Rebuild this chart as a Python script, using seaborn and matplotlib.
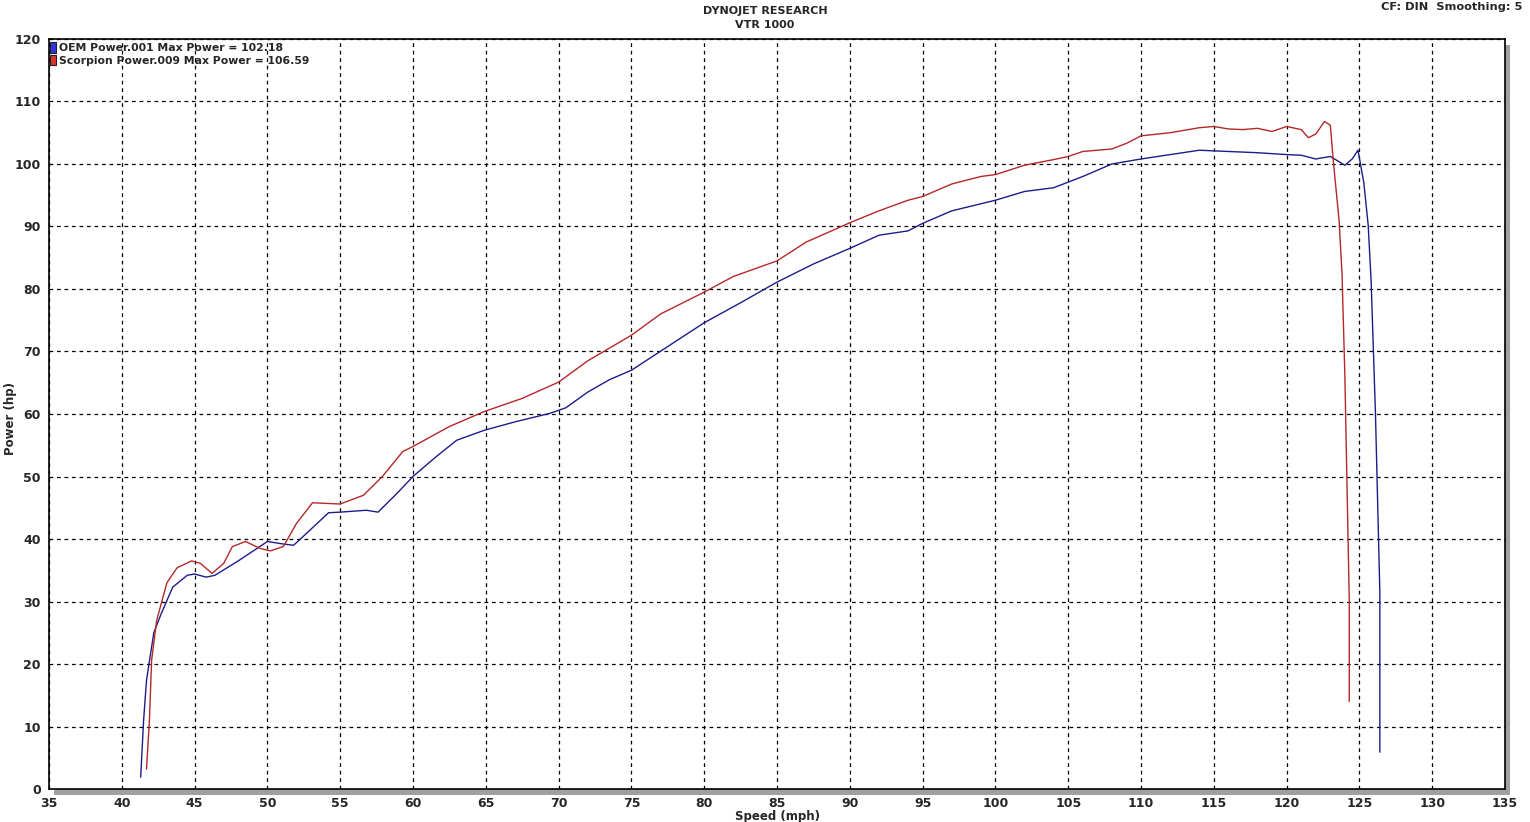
import numpy as np
import pandas as pd
import seaborn as sns
import matplotlib.pyplot as plt
from matplotlib.patches import Patch, Rectangle
from matplotlib.ticker import MultipleLocator

# values
oem_speed = [41.3, 41.5, 41.7, 42.2, 42.7, 43.5, 44.5, 45.0, 45.8, 46.4, 48.0, 50.0,
             51.1, 51.8, 52.5, 54.2, 55.0, 56.8, 57.6, 58.9, 60.0, 61.5, 63.0, 64.9,
             67.1, 69.4, 70.5, 72.0, 73.5, 75.0, 77.5, 80.0, 82.5, 85.0, 87.5, 90.0,
             92.0, 94.0, 95.0, 97.0, 100.0, 102.0, 104.0, 106.0, 108.0, 110.0, 112.0,
             114.0, 116.0, 118.0, 120.0, 121.0, 122.0, 123.0, 124.0, 124.5, 124.9,
             125.3, 125.6, 125.8, 126.1, 126.4, 126.4]
oem_power = [1.9, 11.0, 17.4, 25.0, 28.0, 32.3, 34.2, 34.4, 33.9, 34.2, 36.5, 39.6,
             39.2, 39.0, 40.5, 44.2, 44.3, 44.6, 44.3, 47.3, 50.0, 53.0, 55.8, 57.4,
             58.8, 60.1, 61.0, 63.5, 65.5, 67.0, 70.8, 74.6, 77.8, 81.1, 84.0, 86.5,
             88.6, 89.3, 90.5, 92.5, 94.2, 95.6, 96.2, 98.0, 100.0, 100.8, 101.5,
             102.2, 102.0, 101.8, 101.5, 101.4, 100.8, 101.2, 99.8, 100.8, 102.2,
             97.0, 90.2, 81.4, 60.0, 31.6, 5.9]

scorpion_speed = [41.7, 41.9, 42.05, 42.4, 43.1, 43.8, 44.8, 45.4, 46.2, 47.0, 47.6,
                  48.5, 49.5, 50.2, 51.1, 52.0, 53.1, 55.0, 56.6, 57.9, 59.3, 60.0,
                  62.5, 64.9, 67.5, 70.0, 72.0, 75.0, 77.0, 80.0, 82.0, 85.0, 87.0,
                  90.0, 92.0, 94.0, 95.0, 97.0, 99.0, 100.0, 102.0, 104.0, 105.0,
                  106.0, 108.0, 109.0, 110.0, 112.0, 114.0, 115.0, 116.0, 117.0,
                  118.0, 119.0, 120.0, 121.0, 121.5, 122.0, 122.6, 123.0, 123.2,
                  123.6, 123.8, 124.0, 124.3, 124.3]
scorpion_power = [3.2, 11.0, 20.6, 27.0, 33.0, 35.4, 36.5, 36.1, 34.5, 36.1, 38.8,
                  39.6, 38.5, 38.1, 38.8, 42.5, 45.8, 45.6, 47.0, 50.0, 54.0, 54.8,
                  58.0, 60.4, 62.5, 65.1, 68.5, 72.6, 76.0, 79.5, 82.0, 84.5, 87.5,
                  90.6, 92.5, 94.2, 94.8, 96.8, 98.0, 98.3, 99.8, 100.7, 101.2,
                  102.0, 102.4, 103.3, 104.5, 105.0, 105.8, 106.0, 105.6, 105.5,
                  105.7, 105.2, 106.0, 105.5, 104.2, 104.8, 106.8, 106.2, 100.6,
                  91.0, 82.6, 66.0, 30.2, 14.0]

runs = ["OEM Power.001 Max Power = 102.18", "Scorpion Power.009 Max Power = 106.59"]
colors = ["#1c1c8c", "#b42828"]

df = pd.concat([
    pd.DataFrame({"Speed": oem_speed, "Power": oem_power, "Run": runs[0]}),
    pd.DataFrame({"Speed": scorpion_speed, "Power": scorpion_power, "Run": runs[1]}),
])

sns.set_style("white")
plt.rcParams["font.family"] = ["DejaVu Sans"]

fig = plt.figure(figsize=(15.3, 8.22), dpi=100)
ax = fig.add_axes([0.032, 0.0401, 0.9517, 0.9125])

# drop shadow behind the plot frame
fig.patches.append(Rectangle((0.035, 0.033), 0.9517, 0.9125, transform=fig.transFigure,
                             facecolor="#a0a0a0", edgecolor="none", zorder=-1))

sns.lineplot(data=df, x="Speed", y="Power", hue="Run", palette=colors, sort=False,
             estimator=None, linewidth=1.0, legend=False, ax=ax)

ax.set_xlim(35, 135)
ax.set_ylim(0, 120)
ax.xaxis.set_major_locator(MultipleLocator(5))
ax.xaxis.set_minor_locator(MultipleLocator(1))
ax.yaxis.set_major_locator(MultipleLocator(10))
ax.yaxis.set_minor_locator(MultipleLocator(2))
ax.tick_params(which="both", direction="inout", color="black", width=1)
ax.tick_params(which="major", length=8, labelsize=9, pad=2)
ax.tick_params(which="minor", length=6)
for lab in ax.get_xticklabels() + ax.get_yticklabels():
    lab.set_fontweight("bold")
ax.grid(True, which="major", color="black", linestyle=(0, (3, 3)), linewidth=0.9)
for sp in ax.spines.values():
    sp.set_color("black")
    sp.set_linewidth(1.2)
ax.set_facecolor("white")

ax.set_xlabel("Speed (mph)", fontweight="bold", fontsize=8.5, labelpad=0)
ax.set_ylabel("")
fig.text(0.0068, 0.491, "Power (hp)", rotation=90, ha="center", va="center",
         fontweight="bold", fontsize=8.5)

handles = [Patch(facecolor=c, edgecolor="#202020", linewidth=0.8) for c in ["#3333dd", "#dd3333"]]
ax.legend(handles, runs, loc="upper left", bbox_to_anchor=(-0.004, 1.004), frameon=False,
          handlelength=0.6, handleheight=1.05, handletextpad=0.3, labelspacing=0.2,
          borderpad=0.1, prop={"weight": "bold", "size": 7.8})

fig.text(0.5, 0.993, "DYNOJET RESEARCH\nVTR 1000", ha="center", va="top",
         fontweight="bold", fontsize=8, linespacing=1.5)
fig.text(0.995, 0.997, "CF: DIN  Smoothing: 5", ha="right", va="top",
         fontweight="bold", fontsize=8.2)

fig.savefig("out.png", dpi=100, facecolor="white")
